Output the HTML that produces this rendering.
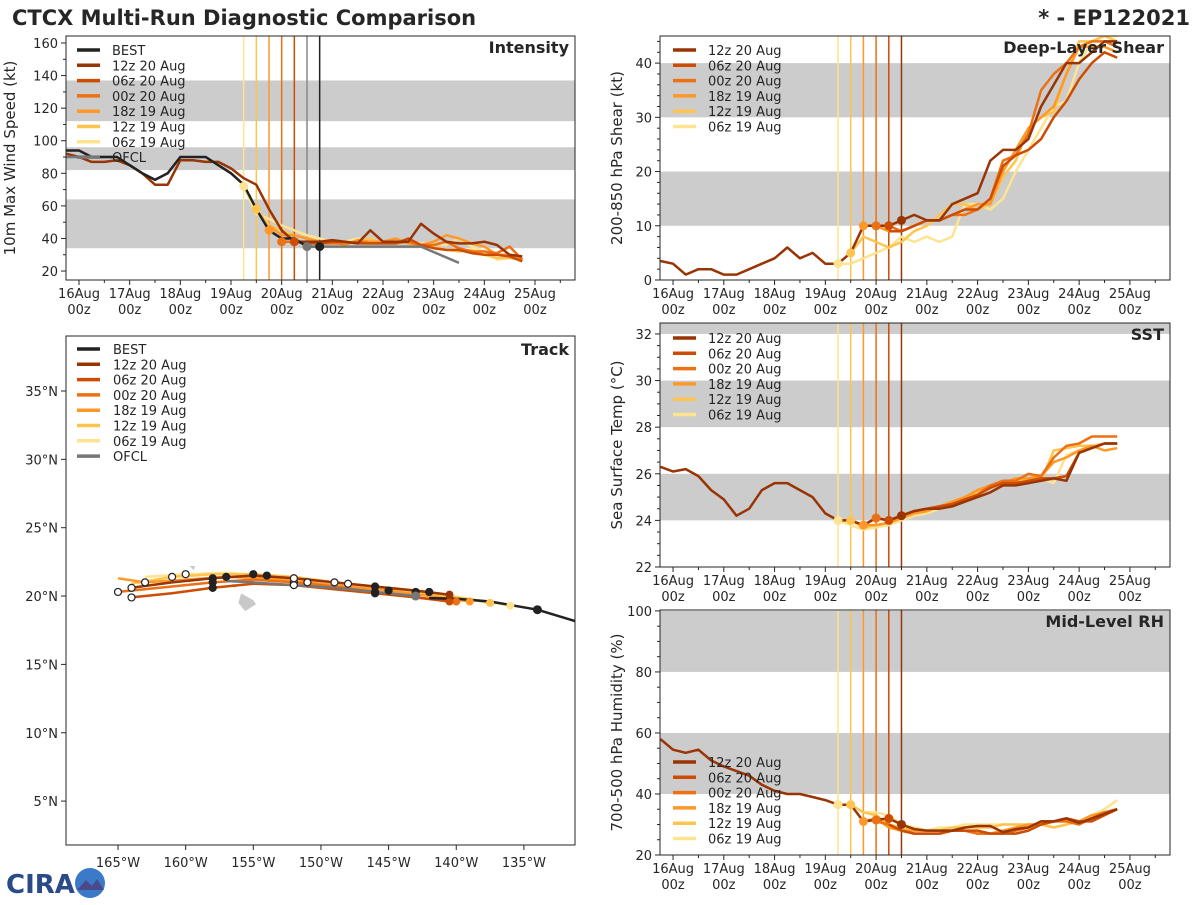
<!DOCTYPE html>
<html><head><meta charset="utf-8"><style>
html,body{margin:0;padding:0;background:#fff;}
svg text{font-family:"DejaVu Sans","Liberation Sans",sans-serif;fill:#262626;}
</style></head><body>
<svg id="root" width="1200" height="900" viewBox="0 0 1200 900" xmlns="http://www.w3.org/2000/svg">
<rect x="0" y="0" width="1200" height="900" fill="#fff"/>
<text x="12" y="25" font-size="21" font-weight="bold">CTCX Multi-Run Diagnostic Comparison</text>
<text x="1190" y="25" font-size="21" font-weight="bold" text-anchor="end">* - EP122021</text>
<g>
<text x="6" y="893" font-size="26" font-weight="bold" style="fill:#2a4a8a">CIRA</text>
<circle cx="90" cy="883" r="15" fill="#3a7ac8"/>
<path d="M77 890 L86 880 L92 886 L97 879 L104 890 Z" fill="#4a4a8a"/>
</g>
<g id="charts"></g>
</svg>
<script>
// ===== data =====
const runNames = ["12z 20 Aug","06z 20 Aug","00z 20 Aug","18z 19 Aug","12z 19 Aug","06z 19 Aug"];
const runInit = [4.5,4.25,4.0,3.75,3.5,3.25]; // days after 16Aug00z
const runColors = ["#993404","#cc4c02","#ec7014","#fe9929","#fec44f","#fee391"];
const dayLabels = ["16Aug","17Aug","18Aug","19Aug","20Aug","21Aug","22Aug","23Aug","24Aug","25Aug"];

// intensity (kt), step 0.25 day
const bestT0 = -0.25;
const bestInt = [94,94,90,90,90,85,80,76,80,90,90,90,85,80,73,58,45,40,40,35,35];
const histInt = [92,90,87,87,88,85,80,73,73,88,88,87,87,83,77,73,58,45,38,38,38];
const ofclEarlyT = [-0.25,0.75];
const ofclEarlyV = [90,90];
const ofclT = [4.5,6.75,7.5];
const ofclV = [35,35,25];
const int12z20 = [38,38,39,38,37,45,38,38,38,49,43,38,37,37,38,36,30,29];
const int06z20 = [38,37,37,38,38,37,37,37,37,40,36,34,33,33,31,30,30,29,26];
const int00z20 = [38,38,38,37,37,37,38,37,37,37,38,36,36,38,34,32,32,31,35,27];
const int18z19 = [48,42,42,40,38,38,36,39,38,38,40,37,36,38,42,40,37,35,30,30,27];
const int12z19 = [58,48,45,42,40,38,37,37,38,40,37,38,38,36,35,33,32,33,30,28,28,27];
const int06z19 = [72,55,52,48,45,42,40,38,38,40,38,38,38,38,37,37,36,40,35,32,27,28,28];

// shear (kt)
const shearHist = [3.5,3,1,2,2,1,1,2,3,4,6,4,5,3,3,5,10,10,10,11,12,11,11,14,15,16,22,24,24,26,32,36,40,40,42,44,44];
const shear06z20 = [9,9,10,11,11,12,13,13,15,21,23,24,26,30,33,37,40,42,41];
const shear00z20 = [10,10,9,10,11,11,12,12,13,15,22,23,27,35,38,40,43,44,44,43];
const shear18z19 = [10,10,9,9,10,11,11,12,13,14,14,20,24,28,30,32,38,43,43,43,42];
const shear12z19 = [5,8,7,6,7,9,10,12,14,14,13,14,19,22,28,30,31,38,44,44,45,44];
const shear06z19 = [3,3,4,5,6,8,7,8,7,8,14,14,13,15,20,24,28,32,33,40,44,45,45];

// SST (C)
const sstHist = [26.3,26.1,26.2,25.9,25.3,24.9,24.2,24.5,25.3,25.6,25.6,25.3,25.0,24.3,24.0,24.0,23.8,24.1,24.0,24.2,24.4,24.5,24.5,24.6,24.8,25.0,25.2,25.5,25.5,25.6,25.7,25.8,25.7,26.9,27.1,27.3,27.3];
const sst06z20 = [24.0,24.2,24.4,24.5,24.6,24.7,24.9,25.1,25.4,25.6,25.6,25.7,25.8,25.8,25.9,26.9,27.1,27.3,27.3];
const sst00z20 = [24.1,24.0,24.2,24.4,24.5,24.6,24.7,24.9,25.1,25.5,25.7,25.7,26.0,25.9,26.7,27.2,27.3,27.6,27.6,27.6];
const sst18z19 = [23.8,23.8,23.9,24.1,24.3,24.4,24.6,24.8,25.0,25.3,25.5,25.6,25.8,25.8,25.9,26.5,26.7,27.0,27.2,27.0,27.1];
const sst12z19 = [24.0,23.7,23.8,23.9,24.1,24.3,24.4,24.6,24.8,25.0,25.2,25.4,25.6,25.7,25.8,25.7,27.0,27.1,27.2,27.2,27.3,27.3];
const sst06z19 = [24.0,23.8,23.6,23.7,23.8,24.0,24.2,24.3,24.5,24.7,24.9,25.1,25.4,25.6,25.7,25.8,25.8,25.6,26.8,27.0,27.2,27.3,27.3];

// RH (%)
const rhHist = [58,54.5,53.5,54.5,51,49,47.5,46,43,41,40,40,39,38,36.5,36.5,31,31.5,32,30,28.5,28,28,28,29,29.5,29.5,27.5,28.5,29,31,31,32,30.5,32,33.5,35];
const rh06z20 = [30,28,27,27,27,28,28,28,27,27,27,28,30,31,32,31,31,33,35];
const rh00z20 = [31,30,28,27,27,27,28,28,27,27,27,28,29,31,31,31,30,32,34,35];
const rh18z19 = [31,32,29,28,28,28,28,28,28,27,27,28,29,30,30,31,31,31,33,34,35];
const rh12z19 = [36.5,34,33,30,29,28,28,28,29,29,29,29,30,30,30,30,29,30,31,32,34,35];
const rh06z19 = [36.5,36.5,34,34,33,30,29,28,29,29,30,30,30,30,30,29,30,29,30,31,33,35,38];

// track (deg W, deg N)
const bestLon = [131,134,137.5,140,142];
const bestLat = [18.1,19.0,19.6,19.8,19.85];
const ofclLon = [143,146,149,152,155,157];
const ofclLat = [20.0,20.3,20.6,20.8,21.0,21.1];
const trk12z20Lon = [140.5,143,146,149,152,155,158,161,164];
const trk12z20Lat = [20.1,20.4,20.7,21.0,21.3,21.5,21.3,21.0,20.6];
const trk06z20Lon = [140.5,143,146,149,152,155,158,161,164];
const trk06z20Lat = [19.6,19.9,20.2,20.5,20.8,20.9,20.6,20.2,19.9];
const trk00z20Lon = [140,143,146,149,152,155,158,161,165];
const trk00z20Lat = [19.6,19.9,20.3,20.7,21.0,21.2,21.0,20.7,20.3];
const trk18z19Lon = [139,142,145,148,151,154,157,160,163,165];
const trk18z19Lat = [19.6,20.0,20.4,20.7,21.0,21.3,21.4,21.2,21.0,21.3];
const trk12z19Lon = [137.5,140,143,146,149,152,155,158,161,164];
const trk12z19Lat = [19.5,19.9,20.3,20.7,21.0,21.4,21.6,21.6,21.4,20.9];
const trk06z19Lon = [136,139,142,145,148,151,154,157,160,163];
const trk06z19Lat = [19.3,19.8,20.3,20.6,20.9,21.2,21.5,21.7,21.6,21.4];

// ===== drawing =====
const NS="http://www.w3.org/2000/svg";
const G=document.getElementById('charts');
function el(tag,attrs,parent,text){const e=document.createElementNS(NS,tag);for(const k in attrs)e.setAttribute(k,attrs[k]);if(text!==undefined)e.textContent=text;(parent||G).appendChild(e);return e;}
function pts(arr){return arr.map(p=>p[0].toFixed(1)+','+p[1].toFixed(1)).join(' ');}

function timePanel(cfg){
  const g=el('g',{});
  
  
  const X=t=>cfg.x0+(t-cfg.tmin)/(cfg.tmax-cfg.tmin)*(cfg.x1-cfg.x0);
  const Y=v=>cfg.y1-(v-cfg.vmin)/(cfg.vmax-cfg.vmin)*(cfg.y1-cfg.y0);
  const clip='clip-'+cfg.name;
  const cp=el('clipPath',{id:clip},g);el('rect',{x:cfg.x0,y:cfg.y0,width:cfg.x1-cfg.x0,height:cfg.y1-cfg.y0},cp);
  cfg.bands.forEach(b=>{const r=el('rect',{x:cfg.x0,y:Y(Math.min(b[1],cfg.vmax)),width:cfg.x1-cfg.x0,height:Y(b[0])-Y(Math.min(b[1],cfg.vmax)),fill:'#cccccc'},g);
    
    });
  const pg=el('g',{'clip-path':'url(#'+clip+')'},g);
  cfg.vlines.forEach(v=>{const l=el('line',{x1:X(v[0]),x2:X(v[0]),y1:cfg.y0,y2:cfg.y1,stroke:v[1],'stroke-width':1.5},pg);
    
    });
  const series=(t0,vals,color,w,name)=>{const p=vals.map((v,i)=>[X(t0+i*0.25),Y(v)]);
    const s=el('polyline',{points:pts(p),fill:'none',stroke:color,'stroke-width':w,'stroke-linejoin':'round'},pg);
    
    };
  for(let i=cfg.runs.length-1;i>=0;i--){ if(cfg.runs[i]) series(runInit[i],cfg.runs[i],runColors[i],2.5,'series-'+runNames[i].replace(/ /g,'-').toLowerCase()); }
  if(cfg.hist) series(cfg.histT0,cfg.hist,runColors[0],2.5,'series-12z-20-aug-history');
  if(cfg.extra) cfg.extra(pg,X,Y);
  cfg.dots.forEach(d=>{const c=el('circle',{cx:X(d[0]),cy:Y(d[1]),r:4.5,fill:d[2]},pg);
    
    });
  el('rect',{x:cfg.x0,y:cfg.y0,width:cfg.x1-cfg.x0,height:cfg.y1-cfg.y0,fill:'none',stroke:'#262626','stroke-width':1},g);
  for(let v=cfg.vmin0;v<=cfg.vmax;v+=cfg.minor){const y=Y(v);if(y<cfg.y0-0.5)continue;
    const major=Math.abs(((v-cfg.vmin0)/cfg.step)-Math.round((v-cfg.vmin0)/cfg.step))<1e-6;
    el('line',{x1:cfg.x0-(major?5:3),x2:cfg.x0,y1:y,y2:y,stroke:'#262626'},g);
    if(major){const t=el('text',{x:cfg.x0-8,y:y+5,'font-size':13,'text-anchor':'end'},g,String(v));
      
      }}
  dayLabels.forEach((d,i)=>{const x=X(i);
    el('line',{x1:x,x2:x,y1:cfg.y1,y2:cfg.y1+5,stroke:'#262626'},g);
    const t=el('text',{x:x,y:cfg.y1+18,'font-size':13,'text-anchor':'middle'},g,d);
    
    
    el('text',{x:x,y:cfg.y1+34,'font-size':13,'text-anchor':'middle'},g,'00z');});
  for(let t=0.5;t<cfg.tmax;t+=0.5){if(Math.abs(t-Math.round(t))<1e-6)continue;el('line',{x1:X(t),x2:X(t),y1:cfg.y1,y2:cfg.y1+3,stroke:'#262626'},g);}
  const yl=el('text',{x:0,y:0,'font-size':15,'text-anchor':'middle',transform:`translate(${cfg.ylx},${(cfg.y0+cfg.y1)/2}) rotate(-90)`},g,cfg.ylabel);
  
  
  const ti=el('text',{x:cfg.x1-6,y:cfg.y0+17,'font-size':16,'font-weight':'bold','text-anchor':'end'},g,cfg.title);
  
  
  cfg.legend.forEach((e,i)=>{const y=cfg.ly+i*15.3;
    const ln=el('line',{x1:cfg.lx,x2:cfg.lx+23,y1:y,y2:y,stroke:e[1],'stroke-width':3.5},g);
    
    
    const t=el('text',{x:cfg.lx+35,y:y+5,'font-size':13},g,e[0]);
    
    });
}

const runLegend=runNames.map((n,i)=>[n,runColors[i]]);
const runVlines=runInit.map((t,i)=>[t,runColors[i]]);
const TMIN=-0.257,TMAX=9.79;

timePanel({name:'intensity-panel',x0:66,x1:575,y0:36,y1:280,tmin:TMIN,tmax:TMAX,vmin:14.5,vmax:164.3,vmin0:20,step:20,minor:10,
  bands:[[34,64],[82,96],[112,137]],
  vlines:[[3.25,runColors[5]],[3.5,runColors[4]],[3.75,runColors[3]],[4.0,runColors[2]],[4.25,runColors[1]],[4.5,'#888888'],[4.75,'#222222']],
  runs:[int12z20,int06z20,int00z20,int18z19,int12z19,int06z19],
  hist:histInt,histT0:-0.25,
  extra:(pg,X,Y)=>{
    const oe=el('polyline',{points:pts(ofclEarlyT.map((t,i)=>[X(t),Y(ofclEarlyV[i])])),fill:'none',stroke:'#777','stroke-width':2.5},pg);
    
    
    const b=el('polyline',{points:pts(bestInt.map((v,i)=>[X(bestT0+i*0.25),Y(v)])),fill:'none',stroke:'#222','stroke-width':2.5},pg);
    
    
    const o=el('polyline',{points:pts(ofclT.map((t,i)=>[X(t),Y(ofclV[i])])),fill:'none',stroke:'#777','stroke-width':2.5},pg);
    
    
  },
  dots:[[3.25,72,runColors[5]],[3.5,58,runColors[4]],[3.75,45,runColors[3]],[4.0,38,runColors[2]],[4.25,38,runColors[1]],[4.5,35,'#777'],[4.75,35,'#222']],
  ylabel:'10m Max Wind Speed (kt)',ylx:15,title:'Intensity',
  lx:77,ly:50,legend:[['BEST','#222']].concat(runLegend,[['OFCL','#777']])});

timePanel({name:'shear-panel',x0:660,x1:1170,y0:36,y1:280,tmin:TMIN,tmax:TMAX,vmin:0,vmax:45,vmin0:0,step:10,minor:2,
  bands:[[10,20],[30,40]],vlines:runVlines,
  runs:[null,shear06z20,shear00z20,shear18z19,shear12z19,shear06z19],hist:shearHist,histT0:-0.25,
  dots:[[3.25,3,runColors[5]],[3.5,5,runColors[4]],[3.75,10,runColors[3]],[4.0,10,runColors[2]],[4.25,10,runColors[1]],[4.5,11,runColors[0]]],
  ylabel:'200-850 hPa Shear (kt)',ylx:622,title:'Deep-Layer Shear',lx:673,ly:50,legend:runLegend});

timePanel({name:'sst-panel',x0:660,x1:1170,y0:323,y1:567,tmin:TMIN,tmax:TMAX,vmin:22,vmax:32.47,vmin0:22,step:2,minor:0.5,
  bands:[[24,26],[28,30],[32,33]],vlines:runVlines,
  runs:[null,sst06z20,sst00z20,sst18z19,sst12z19,sst06z19],hist:sstHist,histT0:-0.25,
  dots:[[3.25,24.0,runColors[5]],[3.5,24.0,runColors[4]],[3.75,23.8,runColors[3]],[4.0,24.1,runColors[2]],[4.25,24.0,runColors[1]],[4.5,24.2,runColors[0]]],
  ylabel:'Sea Surface Temp (°C)',ylx:622,title:'SST',lx:673,ly:338,legend:runLegend});

timePanel({name:'rh-panel',x0:660,x1:1170,y0:610,y1:855,tmin:TMIN,tmax:TMAX,vmin:20,vmax:100.3,vmin0:20,step:20,minor:5,
  bands:[[40,60],[80,100]],vlines:runVlines,
  runs:[null,rh06z20,rh00z20,rh18z19,rh12z19,rh06z19],hist:rhHist,histT0:-0.25,
  dots:[[3.25,36.5,runColors[5]],[3.5,36.5,runColors[4]],[3.75,31,runColors[3]],[4.0,31.5,runColors[2]],[4.25,32,runColors[1]],[4.5,30,runColors[0]]],
  ylabel:'700-500 hPa Humidity (%)',ylx:622,title:'Mid-Level RH',lx:673,ly:762,legend:runLegend});

// ===== track panel =====
(function(){
  const x0=66,x1=575,y0=336,y1=845;
  const g=el('g',{});
  
  
  const X=lon=>118+(165-lon)*13.53;
  const Y=lat=>391+(35-lat)*13.67;
  const cp=el('clipPath',{id:'clip-track'},g);el('rect',{x:x0,y:y0,width:x1-x0,height:y1-y0},cp);
  const pg=el('g',{'clip-path':'url(#clip-track)'},g);
  const isl=el('path',{d:`M${X(155.9)} ${Y(20.2)} L${X(155.0)} ${Y(19.7)} L${X(154.8)} ${Y(19.4)} L${X(155.6)} ${Y(18.9)} L${X(156.1)} ${Y(19.5)} Z M${X(156.6)} ${Y(20.9)} L${X(155.9)} ${Y(20.8)} L${X(156.4)} ${Y(20.6)} Z M${X(158.2)} ${Y(21.6)} L${X(157.7)} ${Y(21.5)} L${X(157.9)} ${Y(21.3)} Z M${X(159.7)} ${Y(22.2)} L${X(159.3)} ${Y(22.2)} L${X(159.4)} ${Y(21.9)} Z`,fill:'#c8c8c8'},pg);
  
  
  const tracks=[trk06z19Lon,trk12z19Lon,trk18z19Lon,trk00z20Lon,trk06z20Lon,trk12z20Lon];
  const tlat=[trk06z19Lat,trk12z19Lat,trk18z19Lat,trk00z20Lat,trk06z20Lat,trk12z20Lat];
  tracks.forEach((lons,k)=>{const ci=5-k;
    const p=el('polyline',{points:pts(lons.map((l,i)=>[X(l),Y(tlat[k][i])])),fill:'none',stroke:runColors[ci],'stroke-width':2.5},pg);
    
    });
  const o=el('polyline',{points:pts(ofclLon.map((l,i)=>[X(l),Y(ofclLat[i])])),fill:'none',stroke:'#777','stroke-width':2.5},pg);
  
  
  const b=el('polyline',{points:pts(bestLon.map((l,i)=>[X(l),Y(bestLat[i])])),fill:'none',stroke:'#222','stroke-width':2.5},pg);
  
  
  tracks.forEach((lons,k)=>{lons.forEach((l,i)=>{if(i===0){
      const c=el('circle',{cx:X(l),cy:Y(tlat[k][i]),r:4,fill:runColors[5-k]},pg);
      
      
    } else if(i%2===0){
      const open=(i%4===0);
      const c=el('circle',{cx:X(l),cy:Y(tlat[k][i]),r:3.5,fill:open?'#fff':'#222',stroke:'#222','stroke-width':1.2},pg);
      
      }});});
  el('circle',{cx:X(134),cy:Y(19.0),r:4.5,fill:'#222'},pg);
  el('circle',{cx:X(143),cy:Y(20.0),r:4.5,fill:'#777'},pg);
  el('rect',{x:x0,y:y0,width:x1-x0,height:y1-y0,fill:'none',stroke:'#262626'},g);
  [165,160,155,150,145,140,135].forEach(l=>{const x=X(l);el('line',{x1:x,x2:x,y1:y1,y2:y1+5,stroke:'#262626'},g);
    const t=el('text',{x:x,y:y1+22,'font-size':13,'text-anchor':'middle'},g,l+'°W');
    
    });
  [5,10,15,20,25,30,35].forEach(l=>{const y=Y(l);el('line',{x1:x0-5,x2:x0,y1:y,y2:y,stroke:'#262626'},g);
    const t=el('text',{x:x0-8,y:y+5,'font-size':13,'text-anchor':'end'},g,l+'°N');
    
    });
  const ti=el('text',{x:x1-6,y:y0+19,'font-size':16,'font-weight':'bold','text-anchor':'end'},g,'Track');
  
  
  const leg=[['BEST','#222']].concat(runLegend,[['OFCL','#777']]);
  leg.forEach((e,i)=>{const y=349+i*15.3;
    const ln=el('line',{x1:77,x2:100,y1:y,y2:y,stroke:e[1],'stroke-width':3.5},g);
    
    
    const t=el('text',{x:113,y:y+5,'font-size':13},g,e[0]);
    
    });
})();
</script>
</body></html>
